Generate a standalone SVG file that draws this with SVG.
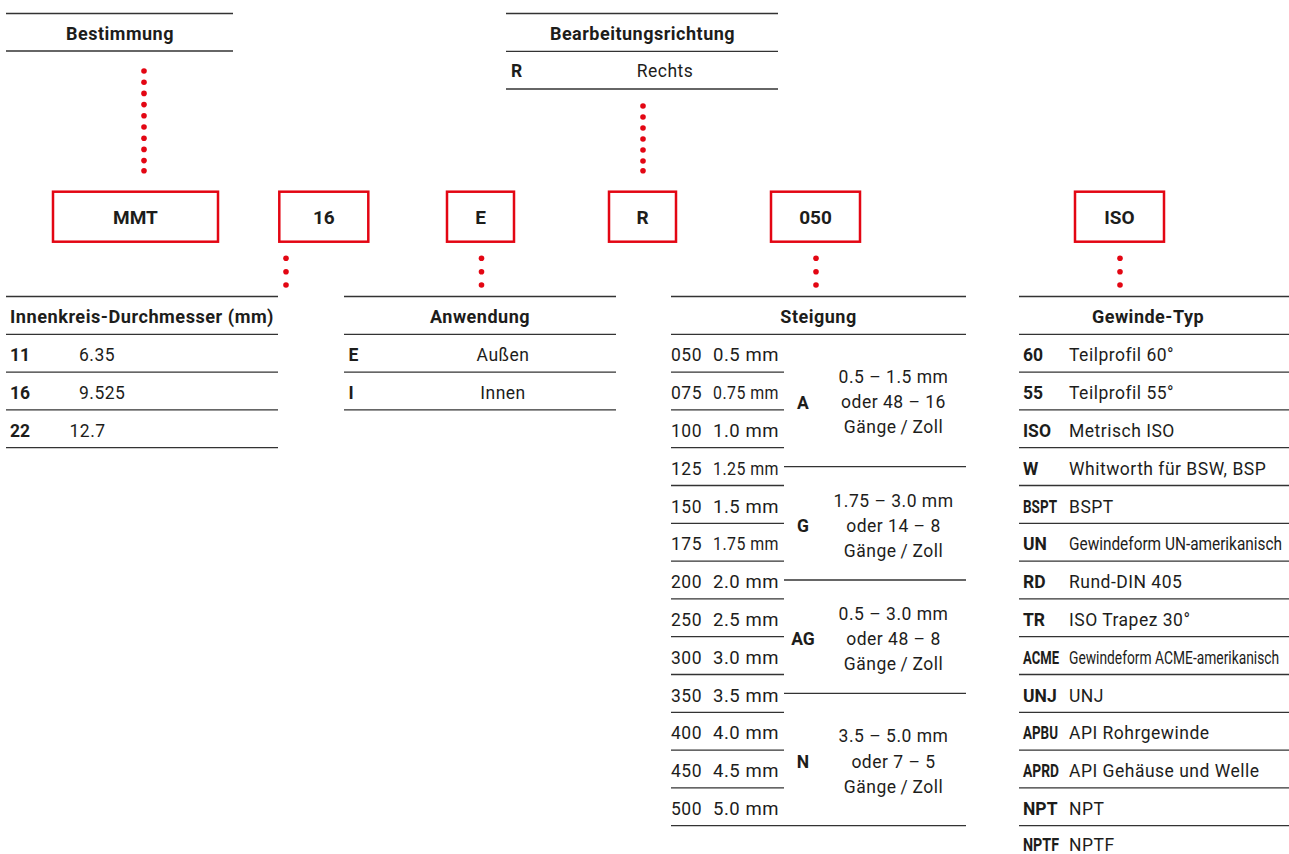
<svg xmlns="http://www.w3.org/2000/svg" width="1289" height="854" viewBox="0 0 1289 854">
<style>
text{font-family:Roboto,"Liberation Sans",sans-serif;fill:#1d1d1b}
.h{font-weight:bold;font-size:18px;letter-spacing:0.5px;text-anchor:middle}
.b{font-weight:bold;font-size:17.5px}
.t{font-size:17.5px;letter-spacing:0.5px}
.c{font-size:17.5px;letter-spacing:0}
.m{text-anchor:middle}
.bx{font-weight:bold;font-size:19px;text-anchor:middle}
.rl line{stroke:#333;stroke-width:1.3}
.box{fill:#fff;stroke:#e30613;stroke-width:2.5}
.dot{fill:#e30613}
</style>
<rect width="1289" height="854" fill="#fff"/>

<g id="bestimmung" class="rl">
<line x1="6" y1="13.5" x2="233" y2="13.5"/><line x1="6" y1="51" x2="233" y2="51"/>
<text class="h" x="120" y="39.5">Bestimmung</text>
</g>

<g id="bearbeitungsrichtung" class="rl">
<line x1="506" y1="13.5" x2="778" y2="13.5"/><line x1="506" y1="51.3" x2="778" y2="51.3"/><line x1="506" y1="89" x2="778" y2="89"/>
<text class="h" x="642.5" y="39.5">Bearbeitungsrichtung</text>
<text class="b" x="511" y="77">R</text>
<text class="t m" x="665" y="77">Rechts</text>
</g>

<g id="boxes">
<g id="box-mmt"><rect class="box" x="53" y="191.7" width="165" height="50"/><text class="bx" x="135.5" y="223.8">MMT</text></g>
<g id="box-16"><rect class="box" x="279.3" y="191.7" width="89" height="50"/><text class="bx" x="323.8" y="223.8">16</text></g>
<g id="box-e"><rect class="box" x="447" y="191.7" width="67" height="50"/><text class="bx" x="480.5" y="223.8">E</text></g>
<g id="box-r"><rect class="box" x="609" y="191.7" width="67" height="50"/><text class="bx" x="642.5" y="223.8">R</text></g>
<g id="box-050"><rect class="box" x="771" y="191.7" width="89" height="50"/><text class="bx" x="815.5" y="223.8">050</text></g>
<g id="box-iso"><rect class="box" x="1075" y="191.7" width="89" height="50"/><text class="bx" x="1119.5" y="223.8">ISO</text></g>
</g>

<g id="connectors" class="dot">
<circle cx="144" cy="71" r="2.8"/><circle cx="144" cy="82.2" r="2.8"/><circle cx="144" cy="93.4" r="2.8"/><circle cx="144" cy="104.6" r="2.8"/><circle cx="144" cy="115.8" r="2.8"/><circle cx="144" cy="127" r="2.8"/><circle cx="144" cy="138.2" r="2.8"/><circle cx="144" cy="149.4" r="2.8"/><circle cx="144" cy="160.6" r="2.8"/><circle cx="144" cy="170.7" r="2.8"/>
<circle cx="643" cy="106" r="2.8"/><circle cx="643" cy="117" r="2.8"/><circle cx="643" cy="128" r="2.8"/><circle cx="643" cy="139" r="2.8"/><circle cx="643" cy="150" r="2.8"/><circle cx="643" cy="161" r="2.8"/><circle cx="643" cy="170.7" r="2.8"/>
<circle cx="286" cy="258.3" r="2.8"/><circle cx="286" cy="271.7" r="2.8"/><circle cx="286" cy="285" r="2.8"/>
<circle cx="481.5" cy="258.3" r="2.8"/><circle cx="481.5" cy="271.7" r="2.8"/><circle cx="481.5" cy="285" r="2.8"/>
<circle cx="816" cy="258.3" r="2.8"/><circle cx="816" cy="271.7" r="2.8"/><circle cx="816" cy="285" r="2.8"/>
<circle cx="1120" cy="258.3" r="2.8"/><circle cx="1120" cy="271.7" r="2.8"/><circle cx="1120" cy="285" r="2.8"/>
</g>

<g id="innenkreis" class="rl">
<line x1="6" y1="296.5" x2="278" y2="296.5"/><line x1="6" y1="334.3" x2="278" y2="334.3"/><line x1="6" y1="372.1" x2="278" y2="372.1"/><line x1="6" y1="409.9" x2="278" y2="409.9"/><line x1="6" y1="447.7" x2="278" y2="447.7"/>
<text class="h" x="142" y="323" textLength="264" lengthAdjust="spacingAndGlyphs">Innenkreis-Durchmesser (mm)</text>
<text class="b" x="10" y="361.3">11</text><text class="t" x="79" y="361.3">6.35</text>
<text class="b" x="10" y="399.1">16</text><text class="t" x="79" y="399.1">9.525</text>
<text class="b" x="10" y="436.9">22</text><text class="t" x="69.5" y="436.9">12.7</text>
</g>

<g id="anwendung" class="rl">
<line x1="344" y1="296.5" x2="616" y2="296.5"/><line x1="344" y1="334.3" x2="616" y2="334.3"/><line x1="344" y1="372.1" x2="616" y2="372.1"/><line x1="344" y1="409.9" x2="616" y2="409.9"/>
<text class="h" x="480" y="323">Anwendung</text>
<text class="b" x="348.6" y="361.3">E</text><text class="t m" x="503" y="361.3">Außen</text>
<text class="b" x="348.6" y="399.1">I</text><text class="t m" x="503" y="399.1">Innen</text>
</g>

<g id="steigung" class="rl">
<line x1="671" y1="296.5" x2="966" y2="296.5"/><line x1="671" y1="334.3" x2="966" y2="334.3"/><line x1="671" y1="825.7" x2="966" y2="825.7"/>
<line x1="671" y1="372.1" x2="784" y2="372.1"/><line x1="671" y1="409.9" x2="784" y2="409.9"/><line x1="671" y1="447.7" x2="784" y2="447.7"/><line x1="671" y1="485.5" x2="784" y2="485.5"/><line x1="671" y1="523.3" x2="784" y2="523.3"/><line x1="671" y1="561.1" x2="784" y2="561.1"/><line x1="671" y1="598.9" x2="784" y2="598.9"/><line x1="671" y1="636.7" x2="784" y2="636.7"/><line x1="671" y1="674.5" x2="784" y2="674.5"/><line x1="671" y1="712.3" x2="784" y2="712.3"/><line x1="671" y1="750.1" x2="784" y2="750.1"/><line x1="671" y1="787.9" x2="784" y2="787.9"/>
<line x1="784" y1="466.6" x2="966" y2="466.6"/><line x1="784" y1="580" x2="966" y2="580"/><line x1="784" y1="693.4" x2="966" y2="693.4"/>
<text class="h" x="818.5" y="323">Steigung</text>
<g class="t">
<text x="671" y="361.3" textLength="31" lengthAdjust="spacingAndGlyphs">050</text><text x="713" y="361.3" textLength="66" lengthAdjust="spacingAndGlyphs">0.5 mm</text>
<text x="671" y="399.1" textLength="31" lengthAdjust="spacingAndGlyphs">075</text><text x="713" y="399.1" textLength="66" lengthAdjust="spacingAndGlyphs">0.75 mm</text>
<text x="671" y="436.9" textLength="31" lengthAdjust="spacingAndGlyphs">100</text><text x="713" y="436.9" textLength="66" lengthAdjust="spacingAndGlyphs">1.0 mm</text>
<text x="671" y="474.7" textLength="31" lengthAdjust="spacingAndGlyphs">125</text><text x="713" y="474.7" textLength="66" lengthAdjust="spacingAndGlyphs">1.25 mm</text>
<text x="671" y="512.5" textLength="31" lengthAdjust="spacingAndGlyphs">150</text><text x="713" y="512.5" textLength="66" lengthAdjust="spacingAndGlyphs">1.5 mm</text>
<text x="671" y="550.3" textLength="31" lengthAdjust="spacingAndGlyphs">175</text><text x="713" y="550.3" textLength="66" lengthAdjust="spacingAndGlyphs">1.75 mm</text>
<text x="671" y="588.1" textLength="31" lengthAdjust="spacingAndGlyphs">200</text><text x="713" y="588.1" textLength="66" lengthAdjust="spacingAndGlyphs">2.0 mm</text>
<text x="671" y="625.9" textLength="31" lengthAdjust="spacingAndGlyphs">250</text><text x="713" y="625.9" textLength="66" lengthAdjust="spacingAndGlyphs">2.5 mm</text>
<text x="671" y="663.7" textLength="31" lengthAdjust="spacingAndGlyphs">300</text><text x="713" y="663.7" textLength="66" lengthAdjust="spacingAndGlyphs">3.0 mm</text>
<text x="671" y="701.5" textLength="31" lengthAdjust="spacingAndGlyphs">350</text><text x="713" y="701.5" textLength="66" lengthAdjust="spacingAndGlyphs">3.5 mm</text>
<text x="671" y="739.3" textLength="31" lengthAdjust="spacingAndGlyphs">400</text><text x="713" y="739.3" textLength="66" lengthAdjust="spacingAndGlyphs">4.0 mm</text>
<text x="671" y="777.1" textLength="31" lengthAdjust="spacingAndGlyphs">450</text><text x="713" y="777.1" textLength="66" lengthAdjust="spacingAndGlyphs">4.5 mm</text>
<text x="671" y="814.9" textLength="31" lengthAdjust="spacingAndGlyphs">500</text><text x="713" y="814.9" textLength="66" lengthAdjust="spacingAndGlyphs">5.0 mm</text>
</g>
<g class="b" text-anchor="middle">
<text x="803" y="408.5">A</text><text x="803" y="531.5">G</text><text x="803" y="645">AG</text><text x="803" y="767.5">N</text>
</g>
<g class="t" text-anchor="middle">
<text x="893.5" y="383.3">0.5 – 1.5 mm</text><text x="893.5" y="408.3">oder 48 – 16</text><text x="893.5" y="433.3">Gänge&#8201;/&#8201;Zoll</text>
<text x="893.5" y="506.5">1.75 – 3.0 mm</text><text x="893.5" y="531.5">oder 14 – 8</text><text x="893.5" y="556.5">Gänge&#8201;/&#8201;Zoll</text>
<text x="893.5" y="620">0.5 – 3.0 mm</text><text x="893.5" y="645">oder 48 – 8</text><text x="893.5" y="670">Gänge&#8201;/&#8201;Zoll</text>
<text x="893.5" y="741.5">3.5 – 5.0 mm</text><text x="893.5" y="767.5">oder 7 – 5</text><text x="893.5" y="792.5">Gänge&#8201;/&#8201;Zoll</text>
</g>
</g>

<g id="gewinde-typ" class="rl">
<line x1="1019" y1="296.5" x2="1289" y2="296.5"/><line x1="1019" y1="334.3" x2="1289" y2="334.3"/><line x1="1019" y1="372.1" x2="1289" y2="372.1"/><line x1="1019" y1="409.9" x2="1289" y2="409.9"/><line x1="1019" y1="447.7" x2="1289" y2="447.7"/><line x1="1019" y1="485.5" x2="1289" y2="485.5"/><line x1="1019" y1="523.3" x2="1289" y2="523.3"/><line x1="1019" y1="561.1" x2="1289" y2="561.1"/><line x1="1019" y1="598.9" x2="1289" y2="598.9"/><line x1="1019" y1="636.7" x2="1289" y2="636.7"/><line x1="1019" y1="674.5" x2="1289" y2="674.5"/><line x1="1019" y1="712.3" x2="1289" y2="712.3"/><line x1="1019" y1="750.1" x2="1289" y2="750.1"/><line x1="1019" y1="787.9" x2="1289" y2="787.9"/><line x1="1019" y1="825.7" x2="1289" y2="825.7"/>
<text class="h" x="1148" y="323">Gewinde-Typ</text>
<g class="b">
<text x="1023" y="361.3">60</text>
<text x="1023" y="399.1">55</text>
<text x="1023" y="436.9">ISO</text>
<text x="1023" y="474.7">W</text>
<text x="1023" y="512.5" textLength="34" lengthAdjust="spacingAndGlyphs">BSPT</text>
<text x="1023" y="550.3">UN</text>
<text x="1023" y="588.1">RD</text>
<text x="1023" y="625.9">TR</text>
<text x="1023" y="663.7" textLength="36" lengthAdjust="spacingAndGlyphs">ACME</text>
<text x="1023" y="701.5">UNJ</text>
<text x="1023" y="739.3" textLength="35" lengthAdjust="spacingAndGlyphs">APBU</text>
<text x="1023" y="777.1" textLength="36" lengthAdjust="spacingAndGlyphs">APRD</text>
<text x="1023" y="814.9">NPT</text>
<text x="1023" y="851" textLength="36" lengthAdjust="spacingAndGlyphs">NPTF</text>
</g>
<g class="t">
<text x="1069" y="361.3">Teilprofil 60°</text>
<text x="1069" y="399.1">Teilprofil 55°</text>
<text x="1069" y="436.9">Metrisch ISO</text>
<text x="1069" y="474.7">Whitworth für BSW, BSP</text>
<text x="1069" y="512.5">BSPT</text>
<text class="c" transform="translate(1069 550.3) scale(0.88 1)">Gewindeform UN-amerikanisch</text>
<text x="1069" y="588.1">Rund-DIN 405</text>
<text x="1069" y="625.9">ISO Trapez 30°</text>
<text class="c" transform="translate(1069 663.7) scale(0.79 1)">Gewindeform ACME-amerikanisch</text>
<text x="1069" y="701.5">UNJ</text>
<text x="1069" y="739.3">API Rohrgewinde</text>
<text x="1069" y="777.1">API Gehäuse und Welle</text>
<text x="1069" y="814.9">NPT</text>
<text x="1069" y="851">NPTF</text>
</g>
</g>
</svg>
